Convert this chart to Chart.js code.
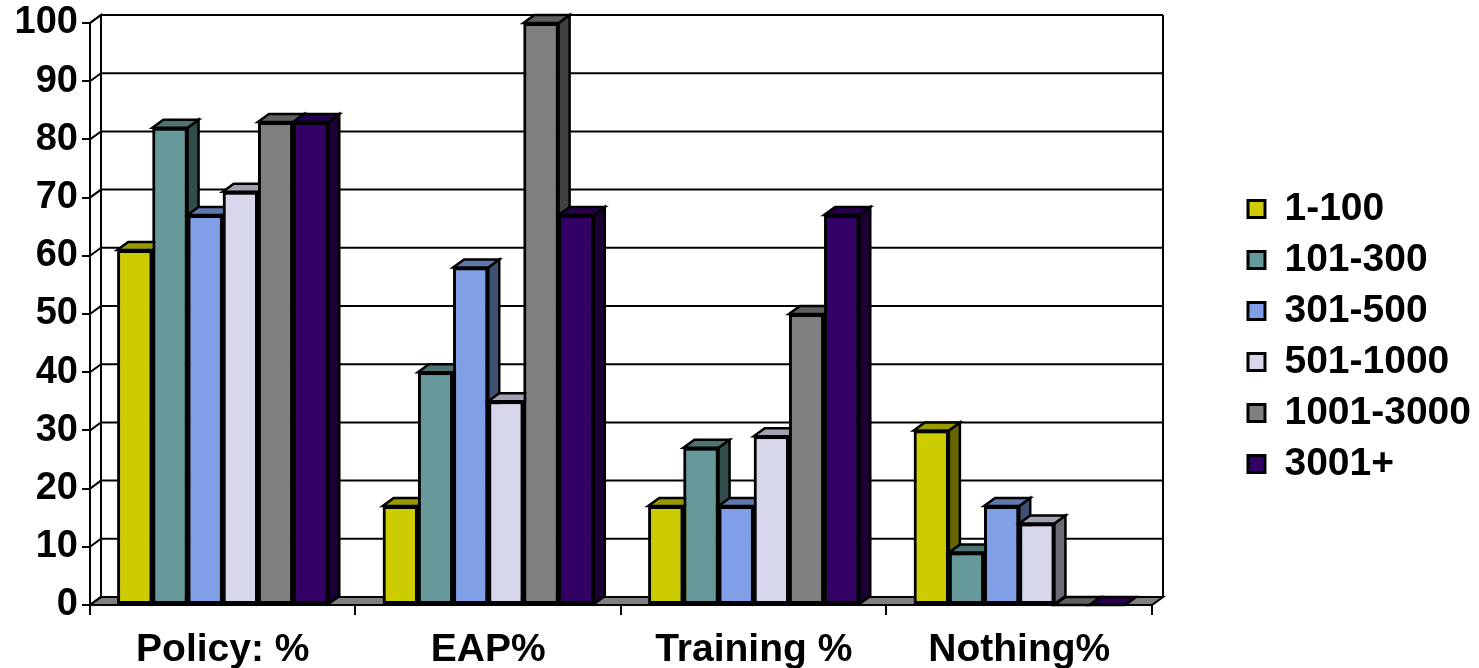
<!DOCTYPE html>
<html>
<head>
<meta charset="utf-8">
<script src="https://cdn.jsdelivr.net/npm/chart.js@4/dist/chart.umd.min.js"></script>
<style>
  html, body { margin: 0; padding: 0; background: #fff; }
  #wrap { width: 1479px; height: 668px; }
</style>
</head>
<body>
<div id="wrap"><canvas id="chart"></canvas></div>
<script>
const categories = ['Policy: %', 'EAP%', 'Training %', 'Nothing%'];
const sizeBands = ['1-100', '101-300', '301-500', '501-1000', '1001-3000', '3001+'];

// percentage per company size, one list per size band
const size1to100 = [61, 17, 17, 30];
const size101to300 = [82, 40, 27, 9];
const size301to500 = [67, 58, 17, 17];
const size501to1000 = [71, 35, 29, 14];
const size1001to3000 = [83, 100, 50, 0];
const size3001plus = [83, 67, 67, 0];

const yTicks = [0, 10, 20, 30, 40, 50, 60, 70, 80, 90, 100];

const bandColors = ['#CCCC00', '#669999', '#809FE6', '#D7D7EC', '#808080', '#330066'];

const depthX = 11;
const depthY = 8;
const font = 'Liberation Sans, Arial, sans-serif';

function shade(hex, f) {
  const n = parseInt(hex.slice(1), 16);
  const r = Math.round(((n >> 16) & 255) * f);
  const g = Math.round(((n >> 8) & 255) * f);
  const b = Math.round((n & 255) * f);
  return `rgb(${r},${g},${b})`;
}

function poly(ctx, pts, fill) {
  ctx.beginPath();
  ctx.moveTo(pts[0][0], pts[0][1]);
  for (let i = 1; i < pts.length; i++) ctx.lineTo(pts[i][0], pts[i][1]);
  ctx.closePath();
  if (fill) {
    ctx.fillStyle = fill;
    ctx.fill();
  }
  ctx.stroke();
}

// walls, floor and back gridlines first; afterwards every bar is
// repainted left to right as side + top + front so neighbours overlap right
const box3d = {
  id: 'box3d',
  beforeDatasetsDraw(chart) {
    const { ctx, chartArea: a, scales } = chart;
    const y = scales.y;
    ctx.save();
    ctx.strokeStyle = '#000';
    ctx.lineWidth = 2;
    poly(ctx, [[a.left, a.bottom], [a.left, a.top], [a.left + depthX, a.top - depthY], [a.left + depthX, a.bottom - depthY]], '#fff');
    poly(ctx, [[a.left, a.bottom], [a.right, a.bottom], [a.right + depthX, a.bottom - depthY], [a.left + depthX, a.bottom - depthY]], '#808080');
    yTicks.forEach((v) => {
      const py = y.getPixelForValue(v);
      ctx.beginPath();
      ctx.moveTo(a.left, py);
      ctx.lineTo(a.left + depthX, py - depthY);
      ctx.lineTo(a.right + depthX, py - depthY);
      ctx.stroke();
    });
    ctx.beginPath();
    ctx.moveTo(a.right + depthX, a.top - depthY);
    ctx.lineTo(a.right + depthX, a.bottom - depthY);
    ctx.stroke();
    ctx.restore();
  },
  afterDatasetsDraw(chart) {
    const { ctx } = chart;
    chart.data.datasets.forEach((ds, i) => {
      const meta = chart.getDatasetMeta(i);
      meta.data.forEach((bar) => {
        const { x, y, base, width } = bar.getProps(['x', 'y', 'base', 'width'], true);
        const l = x - width / 2;
        const r = x + width / 2;
        ctx.save();
        ctx.strokeStyle = '#000';
        ctx.lineWidth = 2.5;
        poly(ctx, [[r, y], [r + depthX, y - depthY], [r + depthX, base - depthY], [r, base]], shade(ds.backgroundColor, 0.5));
        poly(ctx, [[l, y], [l + depthX, y - depthY], [r + depthX, y - depthY], [r, y]], shade(ds.backgroundColor, 0.75));
        ctx.restore();
        bar.draw(ctx, chart.chartArea);
      });
    });
  },
};

const seriesValues = [size1to100, size101to300, size301to500, size501to1000, size1001to3000, size3001plus];

const ctx = document.getElementById('chart').getContext('2d');
const chart = new Chart(ctx, {
  type: 'bar',
  data: {
    labels: categories,
    datasets: sizeBands.map((band, i) => ({
      label: band,
      data: seriesValues[i],
      backgroundColor: bandColors[i],
      borderColor: '#000',
      borderWidth: 3,
      borderSkipped: false,
      barPercentage: 1,
      categoryPercentage: 0.795,
      yAxisID: 'y',
    })),
  },
  options: {
    responsive: true,
    maintainAspectRatio: false,
    animation: false,
    layout: { padding: { top: 5, right: -2, left: 0, bottom: 0 } },
    plugins: {
      tooltip: { enabled: false },
      legend: {
        position: 'right',
        labels: {
          boxWidth: 17,
          boxHeight: 17,
          padding: 12,
          color: '#000',
          font: { family: font, size: 39, weight: 'bold' },
        },
      },
    },
    scales: {
      x: {
        grid: { offset: true, drawOnChartArea: false, tickLength: 10, color: '#000', lineWidth: 2 },
        border: { color: '#000', width: 2 },
        ticks: { color: '#000', padding: 12, font: { family: font, size: 39, weight: 'bold' } },
        afterFit: (s) => { s.height = 63; },
      },
      y: {
        min: 0,
        max: 100,
        ticks: { stepSize: 10, color: '#000', padding: 4, font: { family: font, size: 38, weight: 'bold', lineHeight: 1 } },
        grid: { drawOnChartArea: false, tickLength: 8, color: '#000', lineWidth: 2 },
        border: { color: '#000', width: 2 },
        afterFit: (s) => { s.width = 90; },
      },
      y2: {
        position: 'right',
        display: true,
        grid: { display: false },
        border: { display: false },
        ticks: { display: false },
        afterFit: (s) => { s.width = 84; },
      },
    },
  },
  plugins: [box3d],
});
</script>
</body>
</html>
